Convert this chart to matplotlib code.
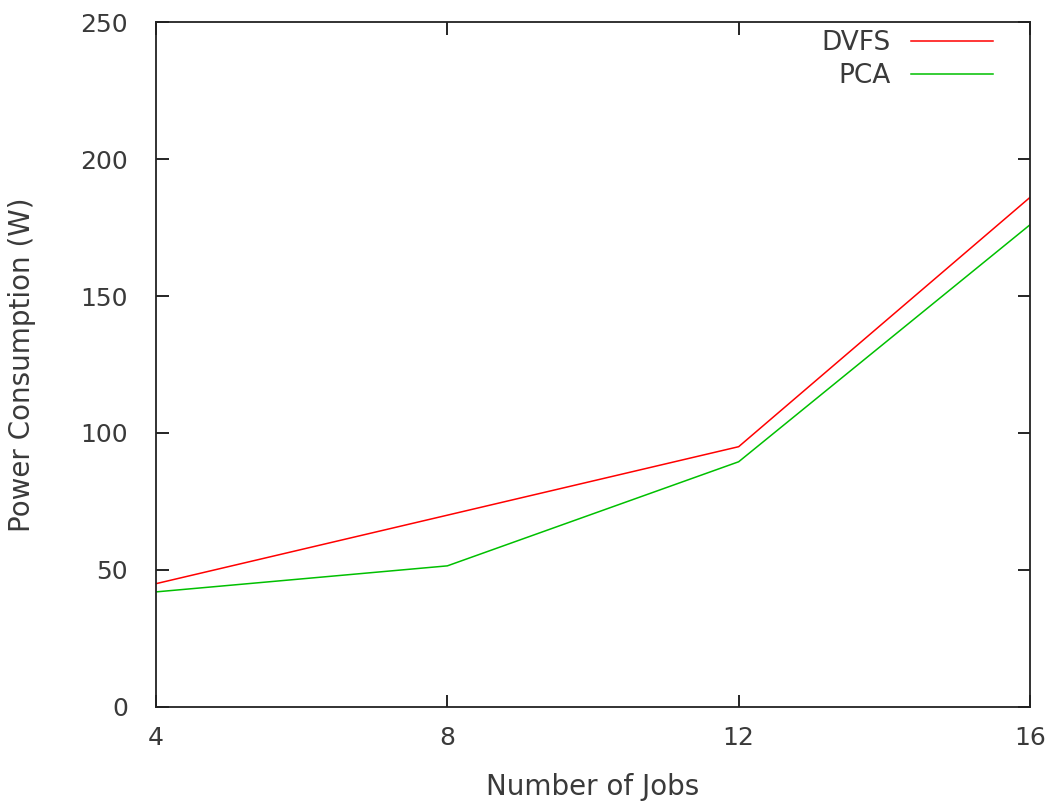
import matplotlib
matplotlib.use("Agg")
import matplotlib.pyplot as plt

# --- данные ---
jobs = [4, 8, 12, 16]
dvfs = [45, 70, 95, 186]
pca = [42, 51.5, 89.5, 176]
y_ticks = [0, 50, 100, 150, 200, 250]

plt.rcParams['font.family'] = ['DejaVu Sans']
TXT = '#3a3a3a'
FS = 18

fig = plt.figure(figsize=(10.49, 8.01), dpi=100)
ax = fig.add_axes([0.1487, 0.1174, 0.9819 - 0.1487, 0.9725 - 0.1174])

ax.plot(jobs, dvfs, color='#ff0000', lw=1.1, label='DVFS')
ax.plot(jobs, pca, color='#00c000', lw=1.1, label='PCA')

ax.set_xlim(4, 16)
ax.set_ylim(0, 250)
ax.set_xticks(jobs)
ax.set_yticks(y_ticks)
ax.tick_params(direction='in', length=9, width=1.2, top=True, right=True,
               labelsize=FS, labelcolor=TXT)
ax.tick_params(axis='y', pad=20)
ax.tick_params(axis='x', pad=14)
for s in ax.spines.values():
    s.set_linewidth(1.3)
    s.set_color('#222222')

ax.set_xlabel('Number of Jobs', fontsize=20, color=TXT, labelpad=16)
ax.set_ylabel('Power Consumption (W)', fontsize=20, color=TXT, labelpad=32)

leg = ax.legend(loc='upper right', bbox_to_anchor=(0.9577, 0.988),
                frameon=False, markerfirst=False, fontsize=19,
                handlelength=3.1, handletextpad=0.8, borderpad=0,
                borderaxespad=0, labelspacing=0.25)
for t in leg.get_texts():
    t.set_color(TXT)

fig.savefig('out.png', dpi=100)
